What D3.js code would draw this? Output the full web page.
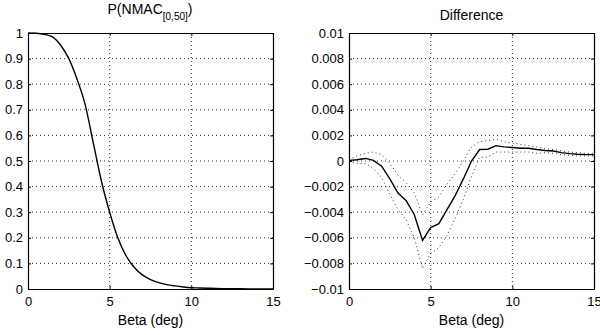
<!DOCTYPE html>
<html>
<head>
<meta charset="utf-8">
<script src="https://cdn.jsdelivr.net/npm/d3@7/dist/d3.min.js"></script>
<style>
  body { margin: 0; background: #fff; }
  svg { font-family: "Liberation Sans", Arial, sans-serif; }
</style>
</head>
<body>
<div id="wrapper"></div>
<script>
// data, beta in 0.5 deg steps
const beta = [0, 0.5, 1, 1.5, 2, 2.5, 3, 3.5, 4, 4.5, 5, 5.5, 6, 6.5, 7, 7.5,
    8, 8.5, 9, 9.5, 10, 10.5, 11, 11.5, 12, 12.5, 13, 13.5, 14, 14.5, 15];

const pNmac = [1.0, 0.999, 0.995, 0.985, 0.952, 0.9, 0.82, 0.72, 0.57, 0.42,
    0.3, 0.2, 0.13, 0.085, 0.055, 0.037, 0.025, 0.017, 0.012, 0.008,
    0.005, 0.004, 0.003, 0.002, 0.0015, 0.001, 0.0008, 0.0005, 0.0004, 0.0003, 0.0002];

const diff = [0.00005, 0.0001, 0.0002, 0.00005, -0.0004, -0.0014, -0.0025, -0.0031,
    -0.0042, -0.0062, -0.0052, -0.0049, -0.0038, -0.0027, -0.0014, 0.0,
    0.0009, 0.00092, 0.0012, 0.0011, 0.00105, 0.001, 0.001, 0.0009,
    0.00082, 0.00078, 0.00065, 0.00058, 0.00053, 0.0005, 0.0005];

const diffUpper = [0.0001, 0.0004, 0.0006, 0.0007, 0.0005, -0.0002, -0.0011, -0.0017,
    -0.0025, -0.0042, -0.0032, -0.0028, -0.0018, -0.001, 0.0, 0.0011,
    0.0015, 0.0016, 0.0017, 0.0015, 0.0014, 0.0013, 0.0012, 0.0011,
    0.00095, 0.0009, 0.0008, 0.0007, 0.00065, 0.0006, 0.0006];

const diffLower = [0.0, -0.0002, -0.0002, -0.0006, -0.0013, -0.0026, -0.0038, -0.0046,
    -0.006, -0.0084, -0.0072, -0.0068, -0.0058, -0.0045, -0.003, -0.0012,
    0.0003, 0.0003, 0.0007, 0.0007, 0.0007, 0.0007, 0.0007, 0.0006,
    0.00065, 0.0006, 0.0005, 0.00045, 0.0004, 0.0004, 0.0004];

const xTicks = [0, 5, 10, 15];
const xTickLabels = ['0', '5', '10', '15'];
const leftYTicks = [0, 0.1, 0.2, 0.3, 0.4, 0.5, 0.6, 0.7, 0.8, 0.9, 1];
const leftYTickLabels = ['0', '0.1', '0.2', '0.3', '0.4', '0.5', '0.6', '0.7', '0.8', '0.9', '1'];
const rightYTicks = [-0.01, -0.008, -0.006, -0.004, -0.002, 0, 0.002, 0.004, 0.006, 0.008, 0.01];
const rightYTickLabels = ['\u22120.01', '\u22120.008', '\u22120.006', '\u22120.004', '\u22120.002',
    '0', '0.002', '0.004', '0.006', '0.008', '0.01'];

const width = 600;
const height = 335;

const svg = d3.select('#wrapper')
    .append('svg')
    .attr('width', width)
    .attr('height', height);

// draws one matlab style axes box with grid, inward ticks and labels
function panel(opts) {
    const x = d3.scaleLinear().domain([0, 15]).range([opts.left, opts.right]);
    const y = d3.scaleLinear().domain(opts.yDomain).range([opts.bottom, opts.top]);
    const g = svg.append('g');

    // grid
    g.selectAll('.vgrid')
        .data(xTicks.slice(1, -1))
        .join('line')
        .attr('x1', d => x(d)).attr('x2', d => x(d))
        .attr('y1', opts.top).attr('y2', opts.bottom)
        .attr('stroke', '#333')
        .attr('stroke-dasharray', '1,3');
    g.selectAll('.hgrid')
        .data(opts.yTicks.slice(1, -1))
        .join('line')
        .attr('x1', opts.left).attr('x2', opts.right)
        .attr('y1', d => y(d)).attr('y2', d => y(d))
        .attr('stroke', '#333')
        .attr('stroke-dasharray', '1,3');

    const xLabel = d => xTickLabels[xTicks.indexOf(d)];
    const yLabel = d => opts.yTickLabels[opts.yTicks.indexOf(d)];

    const bottom = g.append('g')
        .attr('transform', `translate(0,${opts.bottom})`)
        .call(d3.axisBottom(x).tickValues(xTicks).tickFormat(xLabel)
            .tickSizeInner(-3).tickSizeOuter(0).tickPadding(5));
    const top = g.append('g')
        .attr('transform', `translate(0,${opts.top})`)
        .call(d3.axisTop(x).tickValues(xTicks).tickFormat('')
            .tickSizeInner(-3).tickSizeOuter(0));
    const leftAxis = g.append('g')
        .attr('transform', `translate(${opts.left},0)`)
        .call(d3.axisLeft(y).tickValues(opts.yTicks).tickFormat(yLabel)
            .tickSizeInner(-3).tickSizeOuter(0).tickPadding(5));
    const rightAxis = g.append('g')
        .attr('transform', `translate(${opts.right},0)`)
        .call(d3.axisRight(y).tickValues(opts.yTicks).tickFormat('')
            .tickSizeInner(-3).tickSizeOuter(0));

    [bottom, top, leftAxis, rightAxis].forEach(a => {
        a.select('.domain').attr('stroke', '#000').attr('stroke-width', 1.2);
        a.selectAll('.tick line').attr('stroke', '#000');
        a.selectAll('.tick text')
            .attr('fill', '#000')
            .style('font-family', '"Liberation Sans", Arial, sans-serif')
            .style('font-size', '13px');
    });
    bottom.selectAll('.tick text').attr('dy', '0.9em');

    g.append('text')
        .attr('x', (opts.left + opts.right) / 2)
        .attr('y', 325)
        .attr('text-anchor', 'middle')
        .style('font-size', '14px')
        .text('Beta (deg)');

    return { x, y, g };
}

// left: P(NMAC)
const left = panel({
    left: 28, right: 273, top: 33, bottom: 289,
    yDomain: [0, 1], yTicks: leftYTicks, yTickLabels: leftYTickLabels,
});

const smoothLine = d3.line()
    .x((d, i) => left.x(beta[i]))
    .y(d => left.y(d))
    .curve(d3.curveMonotoneX);

left.g.append('path')
    .datum(pNmac)
    .attr('d', smoothLine)
    .attr('fill', 'none')
    .attr('stroke', '#000')
    .attr('stroke-width', 1.4);

const title = left.g.append('text')
    .attr('x', 150)
    .attr('y', 14)
    .attr('text-anchor', 'middle')
    .style('font-size', '14px');
title.append('tspan').text('P(NMAC');
title.append('tspan').attr('dy', 6).style('font-size', '10px').text('[0,50]');
title.append('tspan').attr('dy', -6).text(')');

// right: difference with dotted bounds
const right = panel({
    left: 349, right: 594, top: 33, bottom: 289,
    yDomain: [-0.01, 0.01], yTicks: rightYTicks, yTickLabels: rightYTickLabels,
});

const line = d3.line()
    .x((d, i) => right.x(beta[i]))
    .y(d => right.y(d));

[diffUpper, diffLower].forEach(series => {
    right.g.append('path')
        .datum(series)
        .attr('d', line)
        .attr('fill', 'none')
        .attr('stroke', '#333')
        .attr('stroke-width', 1)
        .attr('stroke-dasharray', '1,3');
});

right.g.append('path')
    .datum(diff)
    .attr('d', line)
    .attr('fill', 'none')
    .attr('stroke', '#000')
    .attr('stroke-width', 1.4);

right.g.append('text')
    .attr('x', (349 + 594) / 2)
    .attr('y', 20)
    .attr('text-anchor', 'middle')
    .style('font-size', '14px')
    .text('Difference');
</script>
</body>
</html>
